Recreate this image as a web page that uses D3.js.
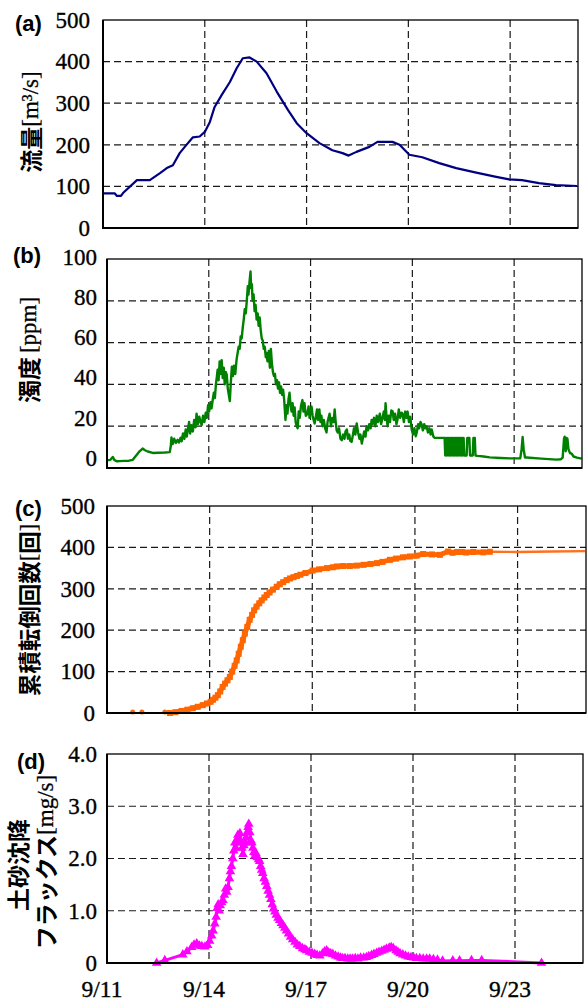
<!DOCTYPE html>
<html>
<head>
<meta charset="utf-8">
<script src="https://cdn.jsdelivr.net/npm/d3@7"></script>
<style>
  html, body { margin: 0; padding: 0; background: #fff; }
  svg { display: block; }
</style>
</head>
<body>
<svg id="chart" width="587" height="1001"></svg>
<script>
// ---- time axis (day of September) ----
const xTicks = [11, 14, 17, 20, 23];
const xTickLabels = ["9/11", "9/14", "9/17", "9/20", "9/23"];

// ---- (a) discharge [m3/s] ----
const flowTicks = [0, 100, 200, 300, 400, 500];
const flowSeries = [
  [11.00, 83], [11.35, 83], [11.41, 77], [11.53, 77], [11.59, 84], [12.00, 115],
  [12.38, 115], [12.68, 132], [12.88, 144], [13.06, 151], [13.26, 180], [13.41, 195],
  [13.65, 218], [13.85, 220], [14.00, 231], [14.15, 255], [14.29, 291], [14.50, 320],
  [14.74, 351], [14.94, 384], [15.12, 408], [15.32, 410], [15.53, 400], [15.82, 372],
  [16.12, 328], [16.45, 284], [16.71, 252], [17.00, 228], [17.38, 204], [17.76, 187],
  [18.06, 180], [18.24, 174], [18.47, 183], [18.85, 195], [19.09, 207], [19.53, 207],
  [19.74, 200], [20.03, 176], [20.41, 170], [20.91, 156], [21.41, 144], [22.00, 133],
  [22.59, 123], [22.97, 117], [23.35, 115], [23.85, 108], [24.35, 103], [24.97, 101]
];

// ---- (b) turbidity [ppm] ----
const turbTicks = [0, 20, 40, 60, 80, 100];
const turbSeries = [
  [11.00, 3.7], [11.10, 3.9], [11.17, 5.3], [11.22, 3.8], [11.30, 3.2], [11.37, 3.3],
  [11.50, 3.4], [11.65, 3.5], [11.76, 3.9], [11.86, 6.0], [11.96, 8.0], [12.05, 9.3],
  [12.12, 8.5], [12.20, 7.9], [12.35, 7.2], [12.50, 7.3], [12.70, 7.4], [12.85, 7.6],
  [12.88, 10.5], [12.90, 14.6], [12.94, 11.5], [12.98, 14.0], [13.03, 12.0], [13.08, 13.5],
  [13.12, 12.2], [13.17, 14.5], [13.20, 12.8], [13.24, 16.5], [13.28, 14.0], [13.32, 18.5],
  [13.35, 15.0], [13.39, 19.0], [13.42, 22.0], [13.45, 16.5], [13.49, 20.5], [13.53, 17.5],
  [13.57, 23.0], [13.61, 19.5], [13.64, 26.0], [13.68, 21.0], [13.72, 24.5], [13.76, 22.0],
  [13.79, 20.5], [13.83, 25.0], [13.87, 22.0], [13.91, 26.5], [13.94, 24.0], [13.98, 30.0],
  [14.01, 27.0], [14.05, 31.5], [14.08, 28.5], [14.12, 33.0], [14.15, 36.0], [14.18, 33.5],
  [14.21, 40.0], [14.24, 44.0], [14.26, 47.0], [14.29, 42.0], [14.32, 51.0], [14.35, 45.0],
  [14.38, 51.6], [14.41, 43.0], [14.44, 48.0], [14.47, 40.0], [14.50, 46.0], [14.53, 44.5],
  [14.56, 38.0], [14.59, 35.0], [14.62, 32.0], [14.65, 41.0], [14.68, 48.5], [14.71, 44.0],
  [14.74, 49.0], [14.78, 45.0], [14.82, 52.0], [14.85, 55.0], [14.88, 58.0], [14.91, 57.0],
  [14.94, 63.0], [14.97, 62.0], [15.00, 67.0], [15.03, 71.0], [15.06, 76.0], [15.09, 74.0],
  [15.12, 80.0], [15.15, 87.0], [15.17, 83.0], [15.20, 89.0], [15.23, 94.0], [15.25, 86.0],
  [15.27, 88.0], [15.29, 80.0], [15.32, 83.0], [15.35, 75.0], [15.38, 78.0], [15.41, 71.0],
  [15.44, 74.0], [15.47, 68.0], [15.50, 72.0], [15.53, 66.0], [15.56, 62.0], [15.59, 61.0],
  [15.62, 57.0], [15.65, 58.0], [15.68, 53.0], [15.70, 55.0], [15.73, 51.0], [15.77, 56.0],
  [15.80, 48.0], [15.83, 57.0], [15.86, 50.0], [15.89, 46.0], [15.92, 44.0], [15.95, 45.0],
  [15.98, 40.0], [16.01, 42.0], [16.04, 38.0], [16.07, 41.0], [16.10, 36.0], [16.13, 39.0],
  [16.16, 35.0], [16.19, 37.5], [16.22, 33.0], [16.26, 23.0], [16.29, 30.0], [16.32, 26.0],
  [16.35, 33.0], [16.38, 36.0], [16.41, 30.0], [16.44, 27.0], [16.47, 31.0], [16.50, 25.0],
  [16.53, 29.0], [16.56, 22.0], [16.59, 20.0], [16.62, 19.0], [16.65, 27.0], [16.68, 24.0],
  [16.72, 30.0], [16.76, 32.5], [16.79, 27.0], [16.82, 31.0], [16.86, 25.0], [16.91, 26.0],
  [16.94, 29.5], [16.97, 24.0], [17.00, 27.0], [17.03, 29.3], [17.06, 25.0], [17.09, 23.0],
  [17.12, 21.3], [17.15, 24.0], [17.19, 28.0], [17.22, 23.0], [17.26, 28.0], [17.29, 22.0],
  [17.32, 25.0], [17.35, 20.0], [17.39, 23.0], [17.43, 19.0], [17.47, 17.0], [17.50, 22.0],
  [17.53, 24.0], [17.56, 26.0], [17.60, 20.0], [17.64, 24.0], [17.68, 22.0], [17.71, 28.0],
  [17.74, 22.0], [17.77, 18.0], [17.80, 17.0], [17.84, 19.0], [17.88, 14.0], [17.92, 13.3],
  [17.96, 16.0], [18.00, 14.0], [18.03, 17.5], [18.07, 18.4], [18.10, 14.0], [18.14, 16.0],
  [18.17, 13.0], [18.21, 12.5], [18.25, 16.0], [18.28, 19.0], [18.32, 16.0], [18.36, 21.3],
  [18.40, 17.0], [18.44, 14.0], [18.47, 16.0], [18.51, 11.7], [18.55, 15.0], [18.58, 17.5],
  [18.62, 15.0], [18.65, 20.0], [18.69, 18.0], [18.73, 21.0], [18.77, 19.0], [18.80, 23.0],
  [18.83, 21.0], [18.87, 24.0], [18.91, 20.0], [18.95, 25.0], [18.99, 22.0], [19.04, 26.0],
  [19.08, 21.0], [19.12, 24.0], [19.16, 27.0], [19.19, 23.0], [19.21, 31.0], [19.24, 24.0],
  [19.27, 20.0], [19.30, 25.0], [19.34, 22.0], [19.38, 27.5], [19.42, 27.0], [19.45, 23.0],
  [19.49, 26.0], [19.53, 21.0], [19.56, 23.0], [19.60, 28.0], [19.64, 24.0], [19.68, 26.5],
  [19.71, 26.0], [19.75, 22.0], [19.79, 27.0], [19.83, 24.0], [19.86, 27.0], [19.90, 22.0],
  [19.94, 24.5], [19.98, 18.4], [20.02, 16.0], [20.06, 19.0], [20.10, 15.2], [20.13, 17.0],
  [20.17, 21.0], [20.20, 19.0], [20.24, 22.0], [20.27, 21.0], [20.31, 18.0], [20.35, 21.0],
  [20.39, 19.0], [20.42, 20.0], [20.46, 17.0], [20.50, 19.0], [20.54, 16.0], [20.57, 18.4],
  [20.62, 15.0], [20.66, 14.4], [20.80, 14.4], [20.95, 14.4], [20.97, 6.0], [20.99, 14.4],
  [21.01, 6.0], [21.03, 14.4], [21.05, 6.0], [21.07, 14.4], [21.09, 6.0], [21.11, 14.4],
  [21.13, 6.0], [21.15, 14.4], [21.17, 6.0], [21.19, 14.4], [21.21, 6.0], [21.23, 14.4],
  [21.25, 6.0], [21.27, 14.4], [21.29, 6.0], [21.31, 14.4], [21.33, 6.0], [21.35, 14.4],
  [21.37, 6.0], [21.39, 14.4], [21.41, 6.0], [21.43, 14.4], [21.45, 6.0], [21.47, 14.4],
  [21.49, 6.0], [21.51, 14.4], [21.53, 6.0], [21.60, 6.0], [21.62, 14.4], [21.68, 14.4],
  [21.70, 6.0], [21.78, 6.0], [21.80, 14.4], [21.84, 14.4], [21.86, 6.0], [21.92, 5.8],
  [22.10, 5.5], [22.28, 5.1], [22.60, 4.8], [22.87, 4.6], [23.18, 4.6], [23.22, 9.0],
  [23.25, 14.8], [23.28, 9.0], [23.32, 5.0], [23.37, 5.0], [23.80, 4.5], [24.25, 4.0],
  [24.38, 4.2], [24.43, 5.0], [24.47, 14.0], [24.49, 15.0], [24.52, 8.0], [24.55, 14.4],
  [24.57, 14.0], [24.60, 9.0], [24.65, 7.0], [24.69, 7.0], [24.75, 5.5], [24.85, 5.0],
  [24.99, 4.5]
];

// ---- (c) cumulative tilt count ----
const countTicks = [0, 100, 200, 300, 400, 500];
const countLoose = [[11.75, 0], [12.02, 0], [12.69, 0]];
const countSeries = [
  [12.84, 0], [13.00, 2], [13.18, 5], [13.35, 8], [13.51, 11.5], [13.65, 15],
  [13.80, 19], [13.92, 23], [14.03, 27], [14.10, 32], [14.17, 37], [14.24, 43],
  [14.31, 52], [14.38, 63], [14.45, 71], [14.52, 79], [14.59, 87], [14.66, 100],
  [14.73, 114], [14.79, 127], [14.85, 143], [14.91, 160], [14.97, 176], [15.03, 192],
  [15.10, 208], [15.17, 225], [15.24, 237], [15.30, 248], [15.37, 257], [15.45, 265],
  [15.52, 272], [15.60, 279], [15.67, 285], [15.75, 291], [15.85, 298], [15.96, 305],
  [16.05, 311], [16.15, 316], [16.25, 321], [16.35, 325], [16.45, 328], [16.55, 331],
  [16.65, 334], [16.80, 338], [17.01, 344], [17.20, 347], [17.43, 350], [17.60, 352],
  [17.72, 354], [17.90, 355], [18.10, 355], [18.30, 356], [18.50, 358], [18.70, 360],
  [18.89, 362], [19.05, 365], [19.27, 370], [19.45, 373], [19.65, 376], [19.85, 378],
  [20.05, 380], [20.24, 384], [20.50, 383], [20.73, 382], [20.97, 390], [21.10, 387],
  [21.23, 389], [21.37, 389], [21.50, 387.5], [21.70, 389], [22.00, 388], [22.19, 389.5],
  [22.98, 389], [24.00, 390], [24.97, 391]
];

// ---- (d) sediment settling flux [mg/s] ----
const fluxTicks = [0, 1, 2, 3, 4];
const fluxTickLabels = ["0", "1.0", "2.0", "3.0", "4.0"];
const fluxSeries = [
  [12.46, 0], [12.70, 0.05], [13.23, 0.16], [13.35, 0.22], [13.49, 0.30], [13.56, 0.35],
  [13.64, 0.37], [13.72, 0.33], [13.79, 0.32], [13.88, 0.31], [13.96, 0.34], [14.02, 0.42],
  [14.08, 0.52], [14.12, 0.62], [14.17, 0.75], [14.21, 0.88], [14.24, 1.05], [14.27, 1.12],
  [14.30, 1.00], [14.33, 1.10], [14.37, 1.16], [14.41, 1.20], [14.45, 1.30], [14.49, 1.42],
  [14.52, 1.36], [14.56, 1.45], [14.60, 1.62], [14.63, 1.75], [14.66, 1.85], [14.70, 2.00],
  [14.73, 2.15], [14.76, 2.30], [14.79, 2.20], [14.82, 2.35], [14.85, 2.45], [14.88, 2.38],
  [14.91, 2.48], [14.94, 2.30], [14.97, 2.20], [15.00, 2.08], [15.03, 2.25], [15.06, 2.30],
  [15.09, 2.40], [15.12, 2.50], [15.15, 2.60], [15.17, 2.66], [15.20, 2.50], [15.23, 2.35],
  [15.26, 2.30], [15.29, 2.20], [15.32, 2.12], [15.35, 2.05], [15.38, 2.10], [15.42, 2.02],
  [15.46, 1.98], [15.49, 1.95], [15.52, 1.85], [15.55, 1.78], [15.58, 1.72], [15.62, 1.62],
  [15.66, 1.55], [15.70, 1.47], [15.74, 1.38], [15.78, 1.30], [15.82, 1.22], [15.86, 1.12],
  [15.90, 1.04], [15.94, 0.98], [15.98, 0.92], [16.03, 0.86], [16.08, 0.82], [16.13, 0.76],
  [16.18, 0.72], [16.23, 0.67], [16.28, 0.62], [16.34, 0.56], [16.40, 0.50], [16.46, 0.45],
  [16.53, 0.40], [16.60, 0.35], [16.67, 0.32], [16.75, 0.28], [16.82, 0.26], [16.87, 0.24],
  [16.95, 0.21], [17.03, 0.19], [17.11, 0.17], [17.18, 0.15], [17.26, 0.14], [17.34, 0.18],
  [17.40, 0.22], [17.46, 0.24], [17.52, 0.20], [17.58, 0.18], [17.64, 0.17], [17.72, 0.14],
  [17.80, 0.12], [17.87, 0.10], [17.93, 0.09], [18.00, 0.09], [18.08, 0.08], [18.15, 0.08],
  [18.22, 0.08], [18.30, 0.09], [18.38, 0.08], [18.46, 0.10], [18.55, 0.10], [18.63, 0.11],
  [18.70, 0.13], [18.78, 0.15], [18.85, 0.17], [18.93, 0.19], [19.00, 0.21], [19.08, 0.23],
  [19.15, 0.25], [19.22, 0.27], [19.30, 0.29], [19.36, 0.30], [19.42, 0.28], [19.50, 0.24],
  [19.56, 0.21], [19.62, 0.18], [19.70, 0.16], [19.78, 0.14], [19.86, 0.12], [19.94, 0.11],
  [20.02, 0.10], [20.10, 0.09], [20.20, 0.09], [20.30, 0.08], [20.40, 0.08], [20.49, 0.08],
  [20.60, 0.07], [20.72, 0.06], [20.87, 0.04], [21.17, 0.045], [21.37, 0.045], [21.72, 0.05],
  [22.02, 0.05], [23.78, 0.0]
];

// ---- drawing ----
const svg = d3.select("#chart");
const SERIF = '"Liberation Serif", "Times New Roman", serif';
const CJK = '"Noto Sans CJK JP", "Noto Sans CJK SC", sans-serif';
const SANS = '"Liberation Sans", Arial, sans-serif';
const DAY_DOMAIN = [11, 25];

// serif numerals get a hairline outline so they read a little heavier
function serifText(sel, size) {
  return sel.style("font-family", SERIF).style("font-size", size + "px")
    .attr("fill", "#000").attr("stroke", "#000").attr("stroke-width", 0.35);
}

function drawPanel(cfg) {
  const x = d3.scaleLinear().domain(DAY_DOMAIN).range([cfg.left, cfg.right]);
  const yMax = cfg.ticks[cfg.ticks.length - 1];
  const y = d3.scaleLinear().domain([0, yMax]).range([cfg.bottom, cfg.top]);
  // the value labels may sit on a slightly tighter span than the plot frame
  const yLab = d3.scaleLinear().domain([0, yMax])
    .range(cfg.labelSpan || [cfg.bottom, cfg.top]);
  const g = svg.append("g");

  // dashed grid
  g.append("g").selectAll("line").data(xTicks.filter(d => d > DAY_DOMAIN[0])).join("line")
    .attr("x1", d => x(d)).attr("x2", d => x(d))
    .attr("y1", cfg.top).attr("y2", cfg.bottom)
    .attr("stroke", "#1a1a1a").attr("stroke-width", 1.2).attr("stroke-dasharray", "7,4");
  g.append("g").selectAll("line").data(cfg.ticks.slice(1, -1)).join("line")
    .attr("x1", cfg.left).attr("x2", cfg.right)
    .attr("y1", d => y(d)).attr("y2", d => y(d))
    .attr("stroke", "#1a1a1a").attr("stroke-width", 1.2).attr("stroke-dasharray", "7,4");

  // y value labels
  const ax = d3.axisLeft(yLab).tickValues(cfg.ticks).tickSize(0).tickPadding(cfg.pad)
    .tickFormat((d, i) => cfg.labels ? cfg.labels[i] : d3.format("d")(d));
  const axg = g.append("g").attr("transform", `translate(${cfg.left},0)`).call(ax);
  axg.attr("font-family", null).attr("font-size", null);
  axg.select(".domain").remove();
  serifText(axg.selectAll("text"), 23);

  // data
  cfg.draw(g, x, y);

  // frame
  g.append("rect")
    .attr("x", cfg.left).attr("y", cfg.top)
    .attr("width", cfg.right - cfg.left).attr("height", cfg.bottom - cfg.top)
    .attr("fill", "none").attr("stroke", "#000").attr("stroke-width", 1.3);
  g.append("path")
    .attr("d", `M${cfg.left},${cfg.top}V${cfg.bottom}H${cfg.right}`)
    .attr("fill", "none").attr("stroke", "#000").attr("stroke-width", 2);

  // panel tag
  g.append("text").attr("x", cfg.tagX).attr("y", cfg.tagY)
    .style("font-family", SANS).style("font-weight", "bold").style("font-size", "22px")
    .text(cfg.tag);

  return { x, y, g };
}

// axis title helper: rotated, mixed Japanese + serif units
function yTitle(cx, cy, parts, size) {
  const t = svg.append("text")
    .attr("transform", `translate(${cx},${cy}) rotate(-90)`)
    .attr("text-anchor", "middle")
    .attr("dominant-baseline", "central")
    .style("font-size", size + "px");
  parts.forEach(p => {
    const s = t.append("tspan")
      .style("font-family", p.jp ? CJK : SERIF)
      .style("font-weight", p.jp ? 700 : 400)
      .attr("dx", p.dx || 0)
      .text(p.s);
    if (!p.jp) s.attr("stroke", "#000").attr("stroke-width", 0.3);
  });
}

const lineGen = (x, y) => d3.line().x(d => x(d[0])).y(d => y(d[1]));

// (a)
drawPanel({
  tag: "(a)", tagX: 15, tagY: 31,
  left: 103, right: 578, top: 20, bottom: 228, pad: 13,
  ticks: flowTicks,
  draw: (g, x, y) => {
    g.append("path").datum(flowSeries).attr("d", lineGen(x, y))
      .attr("fill", "none").attr("stroke", "#000080").attr("stroke-width", 2.2)
      .attr("stroke-linejoin", "round");
  }
});
yTitle(30, 122, [{ s: "流量", jp: true }, { s: "[m³/s]" }], 23);

// (b)
drawPanel({
  tag: "(b)", tagX: 13, tagY: 263,
  left: 107, right: 582, top: 259, bottom: 468, pad: 10,
  labelSpan: [458, 257],
  ticks: turbTicks,
  draw: (g, x, y) => {
    g.append("path").datum(turbSeries).attr("d", lineGen(x, y))
      .attr("fill", "none").attr("stroke", "#008000").attr("stroke-width", 2.4)
      .attr("stroke-linejoin", "round");
  }
});
yTitle(28, 350, [{ s: "濁度", jp: true }, { s: "[ppm]", dx: 4 }], 23);

// (c)
drawPanel({
  tag: "(c)", tagX: 15, tagY: 516,
  left: 107, right: 586, top: 506, bottom: 713, pad: 12,
  ticks: countTicks,
  draw: (g, x, y) => {
    const marked = countSeries.filter(d => d[0] <= 22.2);
    g.append("path").datum(countSeries).attr("d", lineGen(x, y))
      .attr("fill", "none").attr("stroke", "#FF7020").attr("stroke-width", 2.4)
      .attr("stroke-linejoin", "round");
    // dense square markers merge into a band along the recorded part
    g.append("path").datum(marked).attr("d", lineGen(x, y))
      .attr("fill", "none").attr("stroke", "#FF6600").attr("stroke-width", 5)
      .attr("stroke-linejoin", "round");
    g.append("g").selectAll("rect").data(marked).join("rect")
      .attr("x", d => x(d[0]) - 3).attr("y", d => y(d[1]) - 3)
      .attr("width", 6).attr("height", 6).attr("fill", "#FF6600");
    g.append("g").selectAll("circle").data(countLoose).join("circle")
      .attr("cx", d => x(d[0])).attr("cy", d => y(d[1]) - 1)
      .attr("r", 2.5).attr("fill", "#FF6600");
  }
});
yTitle(28, 610, [{ s: "累積転倒回数", jp: true }, { s: "[" }, { s: "回", jp: true }, { s: "]" }], 22.5);

// (d)
const pd = drawPanel({
  tag: "(d)", tagX: 17, tagY: 769,
  left: 107, right: 583, top: 754, bottom: 963, pad: 10,
  ticks: fluxTicks, labels: fluxTickLabels,
  draw: (g, x, y) => {
    g.append("path").datum(fluxSeries).attr("d", lineGen(x, y))
      .attr("fill", "none").attr("stroke", "#FF00FF").attr("stroke-width", 3)
      .attr("stroke-linejoin", "round");
    const tri = d3.symbol().type(d3.symbolTriangle).size(40);
    g.append("g").selectAll("path").data(fluxSeries).join("path")
      .attr("d", tri)
      .attr("transform", d => `translate(${x(d[0])},${y(d[1])})`)
      .attr("fill", "#FF00FF");
  }
});
yTitle(17, 865, [{ s: "土砂沈降", jp: true }], 23);
yTitle(45, 862, [{ s: "フラックス", jp: true }, { s: "[mg/s]" }], 23);

// shared date labels under the bottom panel
serifText(
  svg.append("g").selectAll("text").data(xTicks).join("text")
    .attr("x", d => pd.x(d) - 5).attr("y", 997)
    .attr("text-anchor", "middle")
    .text((d, i) => xTickLabels[i]),
  23.5);
</script>
</body>
</html>
